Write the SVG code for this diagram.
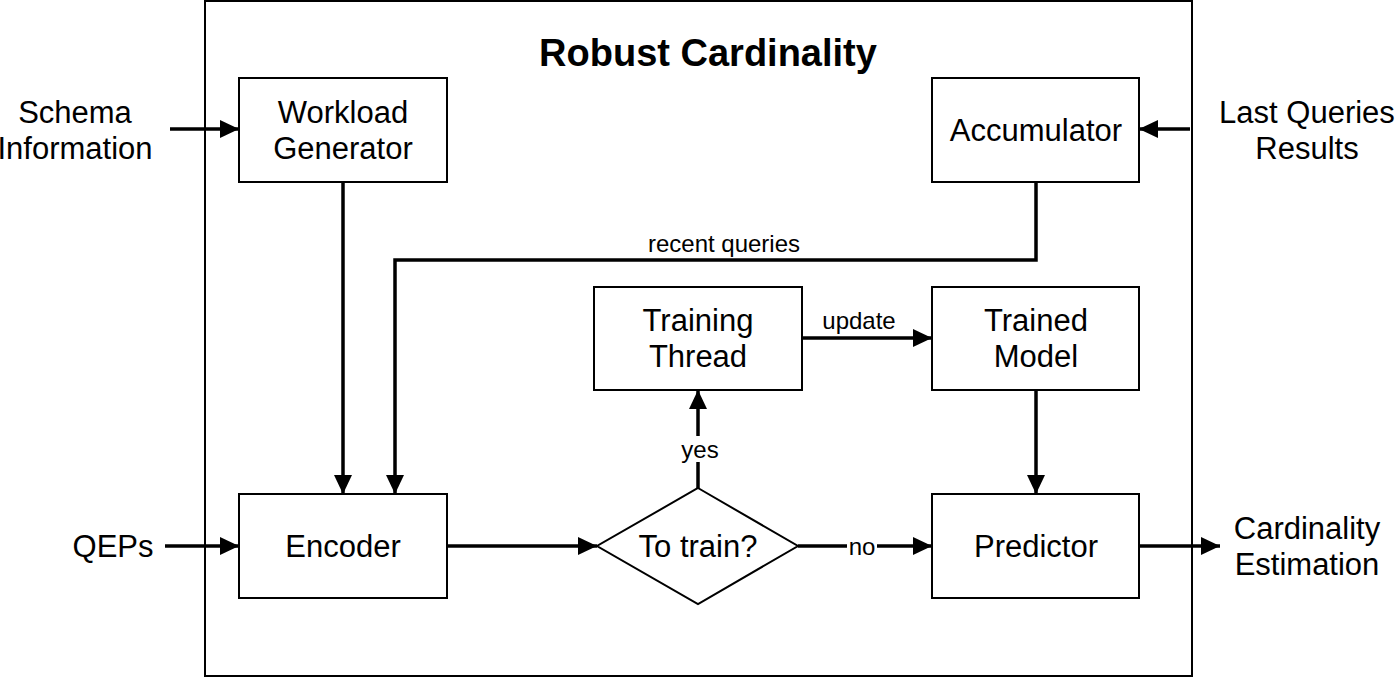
<svg xmlns="http://www.w3.org/2000/svg" width="1395" height="677" viewBox="0 0 1395 677">
<style>
.box{fill:#fff;stroke:#000;stroke-width:2}
.frame{fill:#fff;stroke:#000;stroke-width:2}
.t{font-family:"Liberation Sans",Arial,sans-serif;font-size:31px;text-anchor:middle;fill:#000}
.s{font-family:"Liberation Sans",Arial,sans-serif;font-size:24px;text-anchor:middle;fill:#000}
.title{font-family:"Liberation Sans",Arial,sans-serif;font-size:38px;font-weight:bold;text-anchor:middle;fill:#000}
.c{fill:none;stroke:#000;stroke-width:3.5;marker-end:url(#ah)}
.bg{fill:#fff}
</style>
<defs>
<marker id="ah" markerUnits="userSpaceOnUse" markerWidth="20" markerHeight="20" refX="19" refY="9" orient="auto">
<path d="M0,0 L19,9 L0,18 z" fill="#000"/>
</marker>
</defs>
<rect class="frame" x="205" y="1" width="987" height="675"/>
<text class="title" x="708" y="66">Robust Cardinality</text>

<g id="connectors">
<path class="c" d="M170,129 H239"/>
<path class="c" d="M1190,129 H1139"/>
<path class="c" d="M343,182 V494"/>
<path class="c" d="M1036,182 V260 H395 V494"/>
<path class="c" d="M802,338 H932"/>
<path class="c" d="M1036,390 V494"/>
<path class="c" d="M698,488 V390"/>
<path class="c" d="M447,546 H597"/>
<path class="c" d="M798,546 H932"/>
<path class="c" d="M165,546 H239"/>
<path class="c" d="M1139,546 H1220"/>
<text class="s" x="724" y="252">recent queries</text>
<text class="s" x="859" y="329">update</text>
<rect class="bg" x="680" y="436" width="40" height="26"/>
<text class="s" x="700" y="458">yes</text>
<rect class="bg" x="847" y="536" width="30" height="20"/>
<text class="s" x="862" y="555">no</text>
</g>

<g id="schema"><text class="t" x="75" y="123">Schema</text><text class="t" x="75" y="159">Information</text></g>
<g id="lastqueries"><text class="t" x="1307" y="123">Last Queries</text><text class="t" x="1307" y="159">Results</text></g>
<g id="qeps"><text class="t" x="113" y="557">QEPs</text></g>
<g id="output"><text class="t" x="1307" y="539">Cardinality</text><text class="t" x="1307" y="575">Estimation</text></g>

<g id="workload"><rect class="box" x="239" y="78" width="208" height="104"/><text class="t" x="343" y="123">Workload</text><text class="t" x="343" y="159">Generator</text></g>
<g id="accumulator"><rect class="box" x="932" y="78" width="207" height="104"/><text class="t" x="1036" y="141">Accumulator</text></g>
<g id="training"><rect class="box" x="594" y="287" width="208" height="103"/><text class="t" x="698" y="331">Training</text><text class="t" x="698" y="367">Thread</text></g>
<g id="trained"><rect class="box" x="932" y="287" width="207" height="103"/><text class="t" x="1036" y="331">Trained</text><text class="t" x="1036" y="367">Model</text></g>
<g id="encoder"><rect class="box" x="239" y="494" width="208" height="104"/><text class="t" x="343" y="557">Encoder</text></g>
<g id="decision"><path class="box" d="M698,488 L798,546 L698,604 L597,546 Z"/><text class="t" x="698" y="557">To train?</text></g>
<g id="predictor"><rect class="box" x="932" y="494" width="207" height="104"/><text class="t" x="1036" y="557">Predictor</text></g>
</svg>
